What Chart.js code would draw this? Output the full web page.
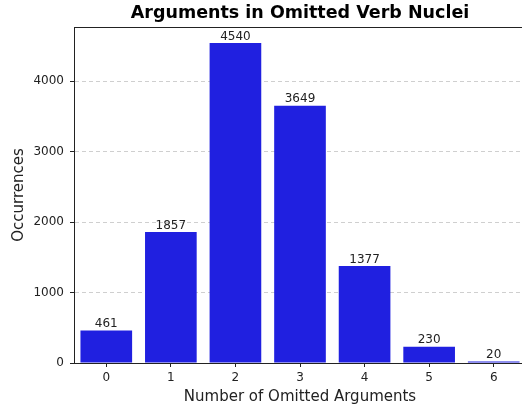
<!DOCTYPE html>
<html>
<head>
<meta charset="utf-8">
<script src="https://cdn.jsdelivr.net/npm/chart.js@4"></script>
<style>
  html, body { margin: 0; padding: 0; background: #fff; overflow: hidden; }
  #wrap { width: 522px; height: 407px; overflow: hidden; }
</style>
</head>
<body>
<div id="wrap"><canvas id="chart" width="540" height="407"></canvas></div>
<script>
// Data
const categories = ['0', '1', '2', '3', '4', '5', '6'];
const occurrences = [461, 1857, 4540, 3649, 1377, 230, 20];
const yTicks = [0, 1000, 2000, 3000, 4000];
const chartTitle = 'Arguments in Omitted Verb Nuclei';

const FONT = "'DejaVu Sans', sans-serif";
const INK = '#222';

// Title centred over the axes (like matplotlib), counts above bars, top/right spines
const decorations = {
    id: 'decorations',
    afterDatasetsDraw(chart) {
        const ctx = chart.ctx;
        const a = chart.chartArea;
        const meta = chart.getDatasetMeta(0);
        ctx.save();
        ctx.font = '12px ' + FONT;
        ctx.fillStyle = INK;
        ctx.textAlign = 'center';
        ctx.textBaseline = 'bottom';
        meta.data.forEach((bar, i) => {
            ctx.fillText(String(occurrences[i]), bar.x, bar.y - 0.5);
        });

        ctx.font = 'bold 17.5px ' + FONT;
        ctx.fillStyle = '#000';
        ctx.textBaseline = 'middle';
        ctx.fillText(chartTitle, (a.left + a.right) / 2, 13.5);

        ctx.strokeStyle = INK;
        ctx.lineWidth = 1;
        ctx.beginPath();
        ctx.moveTo(a.left, a.top + 0.5);
        ctx.lineTo(a.right, a.top + 0.5);
        ctx.lineTo(a.right, a.bottom);
        ctx.stroke();
        ctx.restore();
    }
};

const ctx = document.getElementById('chart').getContext('2d');
new Chart(ctx, {
    type: 'bar',
    data: {
        labels: categories,
        datasets: [{
            data: occurrences,
            backgroundColor: '#2020e0',
            borderWidth: 0,
            barPercentage: 0.8,
            categoryPercentage: 1.0
        }]
    },
    options: {
        responsive: false,
        animation: false,
        devicePixelRatio: 1,
        layout: { padding: { left: 0, right: 14, top: 27, bottom: 0 } },
        plugins: {
            legend: { display: false },
            tooltip: { enabled: false },
            title: { display: false }
        },
        scales: {
            x: {
                afterFit: s => { s.height = 44; },
                grid: { display: true, drawOnChartArea: false, drawTicks: true, offset: false,
                        tickLength: 4, tickColor: INK, tickWidth: 1 },
                border: { color: INK, width: 1 },
                ticks: { color: INK, font: { family: FONT, size: 12 }, padding: 4 },
                title: { display: true, text: 'Number of Omitted Arguments', color: INK,
                         font: { family: FONT, size: 15 }, padding: { top: 2, bottom: 1 } }
            },
            y: {
                min: 0,
                max: 4767,
                afterFit: s => { s.width = 74; },
                afterBuildTicks: s => { s.ticks = yTicks.map(v => ({ value: v })); },
                grid: { color: '#cfcfcf', lineWidth: 1, drawTicks: true, tickLength: 4,
                        tickColor: INK, tickWidth: 1, tickBorderDash: [] },
                border: { color: INK, width: 1, dash: [4, 3] },
                ticks: { color: INK, font: { family: FONT, size: 12 }, padding: 6,
                         callback: v => String(v) },
                title: { display: true, text: 'Occurrences', color: INK,
                         font: { family: FONT, size: 15 }, padding: { top: 10, bottom: 4 } }
            }
        }
    },
    plugins: [decorations]
});
</script>
</body>
</html>
